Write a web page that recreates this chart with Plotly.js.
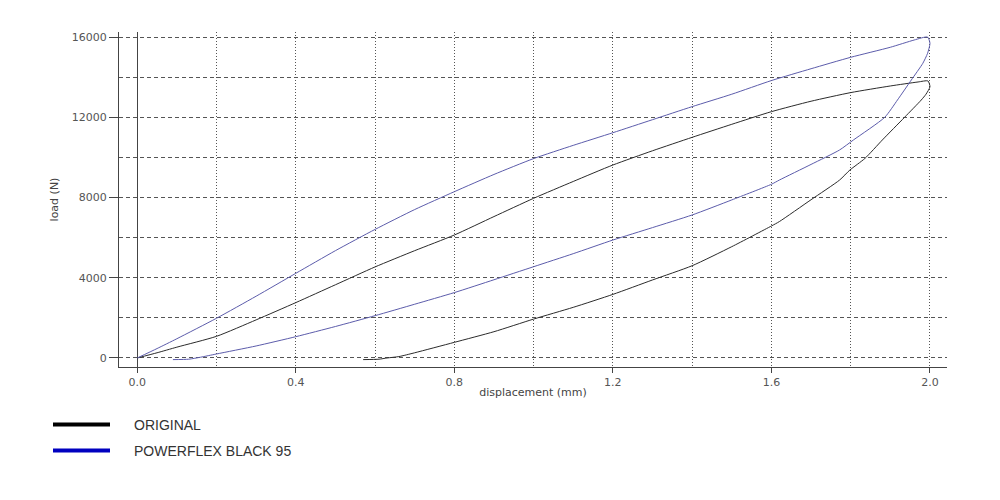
<!DOCTYPE html>
<html>
<head>
<meta charset="utf-8">
<script src="https://cdn.plot.ly/plotly-3.0.1.min.js"></script>
<style>html,body{margin:0;padding:0;background:#fff;}#chart{width:1000px;height:500px;}</style>
</head>
<body>
<div id="chart"></div>
<script>
// ORIGINAL: loading then unloading (displacement mm, load N)
const origX = [0, 0.05, 0.1, 0.2, 0.3, 0.4, 0.5, 0.6, 0.7, 0.8, 0.9, 1.0, 1.1, 1.2, 1.3, 1.4, 1.5, 1.6, 1.7, 1.8, 1.9, 1.97, 1.995,
  2.0, 1.99, 1.978, 1.936, 1.88, 1.836, 1.798, 1.772, 1.7, 1.62, 1.6, 1.5, 1.4, 1.3, 1.2, 1.1, 1.0, 0.9, 0.8, 0.7, 0.66, 0.63, 0.61, 0.57];
const origY = [0, 260, 540, 1080, 1900, 2760, 3650, 4540, 5350, 6130, 7050, 7960, 8800, 9620, 10330, 11000, 11650, 12280, 12800, 13230, 13560, 13760, 13810,
  13520, 13150, 12860, 12000, 10870, 9950, 9370, 8870, 7890, 6800, 6580, 5550, 4600, 3890, 3170, 2525, 1940, 1310, 780, 260, 70, 0, -60, -80];

// POWERFLEX BLACK 95: loading then unloading
const powerX = [0, 0.05, 0.1, 0.2, 0.3, 0.4, 0.5, 0.6, 0.7, 0.8, 0.9, 1.0, 1.1, 1.2, 1.3, 1.4, 1.5, 1.6, 1.7, 1.8, 1.9, 1.96, 1.994,
  2.0, 1.994, 1.982, 1.953, 1.918, 1.886, 1.807, 1.772, 1.7, 1.62, 1.6, 1.5, 1.4, 1.3, 1.2, 1.1, 1.0, 0.9, 0.8, 0.7, 0.6, 0.5, 0.4, 0.3, 0.2, 0.16, 0.13, 0.09];
const powerY = [0, 470, 960, 1980, 3080, 4220, 5350, 6410, 7400, 8290, 9150, 9940, 10600, 11230, 11880, 12530, 13150, 13830, 14420, 14990, 15490, 15850, 16000,
  15690, 15190, 14690, 13860, 12860, 12000, 10870, 10370, 9650, 8870, 8660, 7880, 7130, 6500, 5880, 5200, 4550, 3900, 3260, 2680, 2110, 1570, 1062, 600, 200, 40, -60, -80];

const seriesNames = ['ORIGINAL', 'POWERFLEX BLACK 95'];
const xTickVals = [0, 0.4, 0.8, 1.2, 1.6, 2.0];
const yTickVals = [0, 4000, 8000, 12000, 16000];

const M = {l: 119, r: 53, t: 32, b: 133};
const W = 1000, H = 500;
const pw = W - M.l - M.r, ph = H - M.t - M.b;
const px2x = p => (p - M.l) / pw;
const px2y = p => (H - M.b - p) / ph;

const traces = [
  {x: origX, y: origY, name: seriesNames[0], mode: 'lines', line: {color: '#2b2b2b', width: 1, shape: 'spline', smoothing: 0.6}, showlegend: false, hoverinfo: 'skip'},
  {x: powerX, y: powerY, name: seriesNames[1], mode: 'lines', line: {color: '#5c5cab', width: 1, shape: 'spline', smoothing: 0.6}, showlegend: false, hoverinfo: 'skip'}
];

const legendItems = [
  {name: seriesNames[0], color: '#000000', y: 424.5},
  {name: seriesNames[1], color: '#0000c0', y: 450.5}
];
const shapes = legendItems.map(it => ({
  type: 'line', xref: 'paper', yref: 'paper',
  x0: px2x(53), x1: px2x(110), y0: px2y(it.y), y1: px2y(it.y),
  line: {color: it.color, width: 4}
}));
const annotations = legendItems.map(it => ({
  xref: 'paper', yref: 'paper', x: px2x(132), y: px2y(it.y),
  xanchor: 'left', yanchor: 'middle', showarrow: false, text: it.name,
  font: {family: '"Liberation Sans", Arial, sans-serif', size: 14, color: '#333'}
}));

const tickFont = {family: '"DejaVu Sans", sans-serif', size: 11, color: '#555'};

const layout = {
  width: W, height: H,
  margin: M,
  paper_bgcolor: '#fff', plot_bgcolor: '#fff',
  showlegend: false,
  xaxis: {
    range: [-0.046, 2.043],
    tickvals: xTickVals, tickformat: '.1f',
    ticks: 'outside', ticklen: 5, tickcolor: '#444', tickwidth: 1,
    tickfont: tickFont,
    showline: true, linecolor: '#444', linewidth: 1, mirror: false,
    showgrid: true, gridcolor: '#555', gridwidth: 1, griddash: '1px,2px',
    minor: {dtick: 0.2, tick0: 0, showgrid: true, gridcolor: '#555', gridwidth: 1, griddash: '1px,2px', ticks: ''},
    zeroline: true, zerolinecolor: '#444', zerolinewidth: 1,
    title: {text: 'displacement (mm)', standoff: 0, font: {family: '"DejaVu Sans", sans-serif', size: 11, color: '#444'}},
    automargin: false, fixedrange: true
  },
  yaxis: {
    range: [-449, 16251],
    tickvals: yTickVals, tickformat: 'd',
    ticks: 'outside', ticklen: 9, tickcolor: '#444', tickwidth: 1,
    tickfont: tickFont,
    showline: true, linecolor: '#444', linewidth: 1, mirror: false,
    showgrid: true, gridcolor: '#555', gridwidth: 1, griddash: '4px,3px',
    minor: {dtick: 2000, tick0: 0, showgrid: true, gridcolor: '#555', gridwidth: 1, griddash: '4px,3px', ticks: ''},
    zeroline: false,
    title: {text: 'load (N)', standoff: 10, font: {family: '"DejaVu Sans", sans-serif', size: 11, color: '#444'}},
    automargin: false, fixedrange: true
  },
  shapes: shapes,
  annotations: annotations
};

Plotly.newPlot('chart', traces, layout, {displayModeBar: false, staticPlot: true});
</script>
</body>
</html>
